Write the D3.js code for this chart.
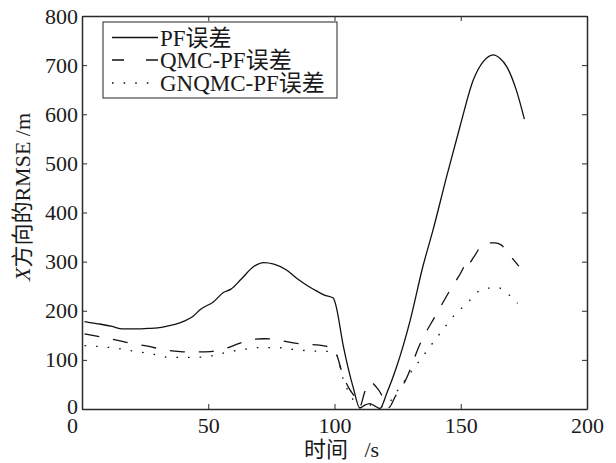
<!DOCTYPE html>
<html>
<head>
<meta charset="utf-8">
<script src="https://cdn.jsdelivr.net/npm/d3@7"></script>
<style>
  html, body { margin: 0; padding: 0; background: #fff; }
  svg { display: block; }
  text { font-family: "Liberation Serif", "Times New Roman", "Noto Sans CJK SC", serif; fill: #1a1a1a; }
</style>
</head>
<body>
<svg id="chart" width="616" height="463"></svg>
<script>
// ---- data ----
const xTicks = [0, 50, 100, 150, 200];
const yTicks = [0, 100, 200, 300, 400, 500, 600, 700, 800];

const pfTime = [1, 3, 7, 12, 16, 20, 26, 30, 34, 39, 44, 47, 52, 56, 59, 63, 68, 72, 76, 81, 85, 89, 93, 96, 99.5, 100.5, 103.5, 107.5, 110, 112, 114, 116, 118, 120.7, 124.6, 130, 135, 139, 144.4, 149.7, 155, 158.9, 162.9, 165.5, 168.2, 172.2, 175.2];
const pfErr  = [178, 176, 173, 168, 163, 163, 164, 165, 169, 176, 189, 203, 218, 237, 244, 264, 290, 298, 295, 283, 266, 252, 240, 232, 226, 212, 128, 42, 2, 8, 11, 6, 1, 32, 86, 181, 290, 364, 473, 575, 670, 707, 721, 714, 697, 646, 590];

const qmcTime = [1, 7, 13.7, 19, 27, 31, 39, 44, 51, 56, 62.6, 68, 72, 76, 81, 87.5, 94, 99, 100.5, 103.5, 106, 108, 110, 112, 114, 116.5, 118.5, 120, 121.5, 124, 128, 134, 140, 146, 151, 152.5, 153.5, 155, 158.5, 161, 163.5, 166, 168.7, 170.7, 173];
const qmcErr  = [153, 147, 140, 134, 127, 122, 117, 116, 117, 122, 134, 142, 143, 142, 137, 132, 130, 124, 115, 66, 40, 25, 5, 35, 55, 45, 30, 10, 3, 25, 57, 134, 190, 244, 287, 305, 298, 308, 334, 338, 338, 334, 317, 305, 291];

const gnTime = [1, 7, 13.7, 20, 27, 35, 44, 51, 57, 65, 70, 77, 84, 91.5, 99, 100.5, 103.5, 107.5, 110, 113, 116, 119, 122, 124.6, 130, 135.8, 141.8, 147.5, 153, 156.3, 161, 165.5, 169.2, 172.5];
const gnErr  = [129, 127, 123.5, 118, 113, 105, 105, 108, 115, 122, 125, 125, 121, 118, 117, 113, 60, 18, 3, 10, 5, 5, 15, 35, 73, 113, 154, 191, 218, 237, 246, 246, 232, 215];

const seriesNames = ["PF误差", "QMC-PF误差", "GNQMC-PF误差"];
const xLabel = "时间   /s";
const yLabelItalic = "X";
const yLabelRest = "方向的RMSE /m";

// ---- layout ----
const svg = d3.select("#chart");
const L = 82, R = 587, T = 16, B = 409;
const x = d3.scaleLinear().domain([0, 200]).range([L, R]);
const y = d3.scaleLinear().domain([0, 800]).range([B, T]);
const axisColor = "#2a2a2a";
const fontSize = 22;

// series
const series = [
  { t: pfTime, v: pfErr, dash: null },
  { t: qmcTime, v: qmcErr, dash: "15,14" },
  { t: gnTime, v: gnErr, dash: "1.6,10" }
];
const line = d3.line().curve(d3.curveMonotoneX).x(d => x(d[0])).y(d => y(d[1]));
series.forEach(s => {
  const pts = s.t.map((t, i) => [t, s.v[i]]);
  svg.append("path")
    .attr("d", line(pts))
    .attr("fill", "none")
    .attr("stroke", "#111")
    .attr("stroke-width", 1.3)
    .attr("stroke-dasharray", s.dash);
});

// axes (ticks inward, box)
const gB = svg.append("g").attr("transform", `translate(0,${B})`)
  .call(d3.axisBottom(x).tickValues(xTicks).tickSizeInner(-5).tickSizeOuter(0).tickPadding(8.5));
const gL = svg.append("g").attr("transform", `translate(${L},0)`)
  .call(d3.axisLeft(y).tickValues(yTicks).tickSizeInner(-5).tickSizeOuter(0).tickPadding(4));
const gT = svg.append("g").attr("transform", `translate(0,${T})`)
  .call(d3.axisTop(x).tickValues(xTicks).tickSizeInner(-5).tickSizeOuter(0).tickFormat(""));
const gR = svg.append("g").attr("transform", `translate(${R},0)`)
  .call(d3.axisRight(y).tickValues(yTicks).tickSizeInner(-5).tickSizeOuter(0).tickFormat(""));

[gB, gL, gT, gR].forEach(g => {
  g.selectAll(".domain").attr("stroke", axisColor).attr("stroke-width", 1.5);
  g.selectAll(".tick line").attr("stroke", axisColor).attr("stroke-width", 1);
  g.selectAll("text").attr("font-size", fontSize).attr("fill", "#1a1a1a")
    .style("font-family", '"Liberation Serif", "Times New Roman", serif');
});
// the "0" label of the x axis sits a little to the left of the axis
gB.selectAll(".tick").filter(d => d === 0).select("text").attr("dx", -10);
gL.selectAll(".tick").filter(d => d === 0).select("text").attr("dy", "0.2em");

// axis titles
svg.append("text")
  .attr("x", (L + R) / 2 + 7).attr("y", 457)
  .attr("text-anchor", "middle")
  .attr("font-size", fontSize)
  .style("white-space", "pre")
  .text(xLabel);

const yl = svg.append("text")
  .attr("transform", "translate(30,197) rotate(-90)")
  .attr("text-anchor", "middle")
  .attr("font-size", fontSize);
yl.append("tspan").attr("font-style", "italic").text(yLabelItalic);
yl.append("tspan").text(yLabelRest);

// legend
const lg = svg.append("g");
lg.append("rect").attr("x", 103).attr("y", 22).attr("width", 234).attr("height", 76)
  .attr("fill", "#fff").attr("stroke", "#222").attr("stroke-width", 1);
const legDash = [null, "12,22", "1.6,10"];
const rowY = [37.5, 60, 83];
seriesNames.forEach((name, i) => {
  lg.append("line")
    .attr("x1", 112).attr("x2", 158).attr("y1", rowY[i]).attr("y2", rowY[i])
    .attr("stroke", "#111").attr("stroke-width", 1.3)
    .attr("stroke-dasharray", legDash[i]);
  lg.append("text")
    .attr("x", 160).attr("y", rowY[i] + 8)
    .attr("font-size", 23)
    .text(name);
});
</script>
</body>
</html>
